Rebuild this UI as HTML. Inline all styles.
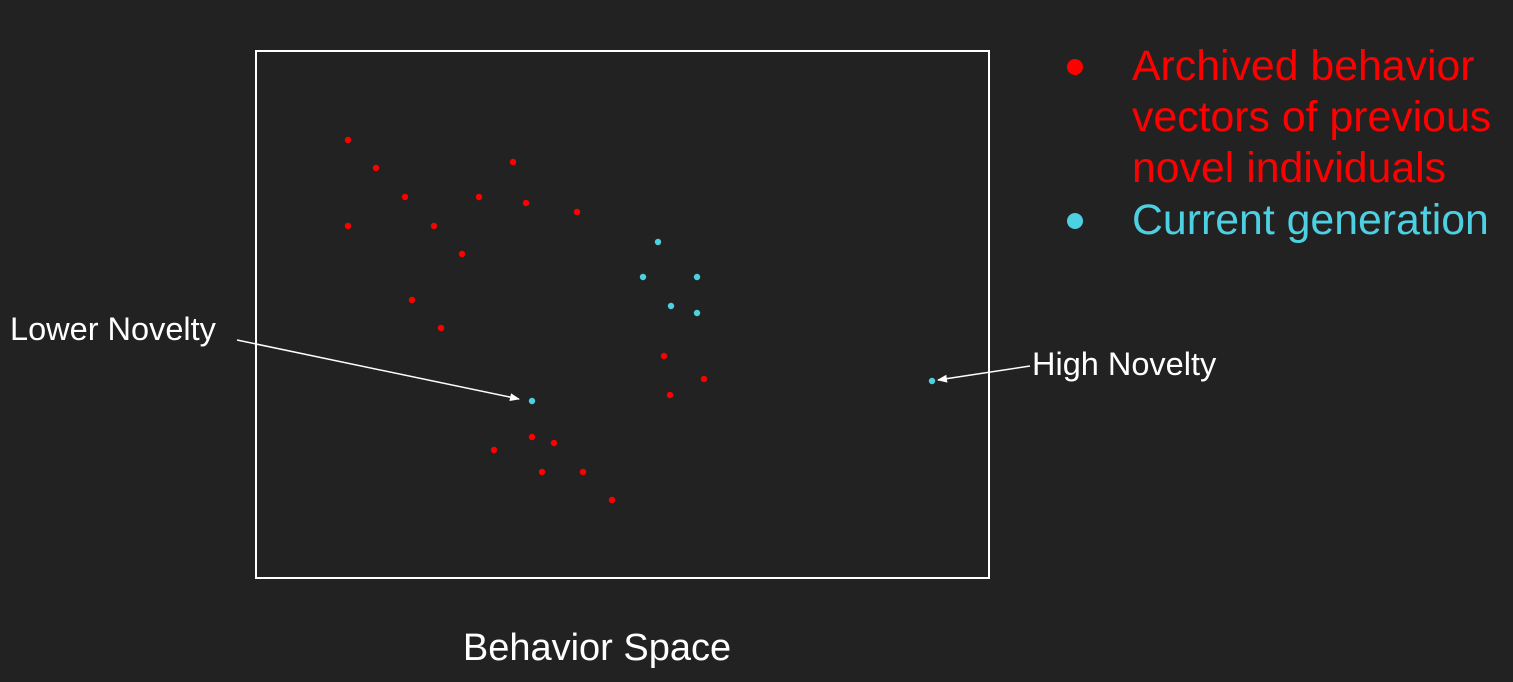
<!DOCTYPE html>
<html><head><meta charset="utf-8"><style>
html,body{margin:0;padding:0;background:#222222;}
svg{display:block;font-family:"Liberation Sans",sans-serif;}
</style></head><body>
<svg width="1513" height="682" viewBox="0 0 1513 682">
<rect x="0" y="0" width="1513" height="682" fill="#222222"/>
<rect x="256" y="51" width="733" height="527" fill="none" stroke="#ffffff" stroke-width="2"/>
<g id="marks"></g>
<defs><marker id="ah" markerWidth="10" markerHeight="8" refX="9" refY="4" orient="auto" markerUnits="userSpaceOnUse"><path d="M0,0 L10,4 L0,8 z" fill="#ffffff"/></marker></defs>
<line x1="237" y1="340" x2="519" y2="399" stroke="#ffffff" stroke-width="1.5" marker-end="url(#ah)"/>
<line x1="1030" y1="366" x2="938" y2="380" stroke="#ffffff" stroke-width="1.5" marker-end="url(#ah)"/>
<text x="10" y="340" font-size="32.5" fill="#ffffff">Lower Novelty</text>
<text x="1032" y="375" font-size="32.5" fill="#ffffff">High Novelty</text>
<text x="597" y="660" font-size="38" fill="#ffffff" text-anchor="middle">Behavior Space</text>
<g>
<circle cx="1075" cy="67" r="8" fill="#ff0000"/>
<text x="1132" y="80" font-size="42.8" fill="#ff0000"><tspan x="1132" y="80">Archived behavior</tspan><tspan x="1132" y="131">vectors of previous</tspan><tspan x="1132" y="182">novel individuals</tspan></text>
<circle cx="1075" cy="221" r="8" fill="#4dd0e1"/>
<text x="1132" y="234" font-size="42.8" fill="#4dd0e1">Current generation</text>
</g>
</svg>
<script>
// data coordinates: x,y measured in behavior-space units (0..733 x 0..527, y down)
const archivedX = [92,120,257,149,223,270,321,92,178,206,156,185,408,448,414,276,298,238,286,327,356];
const archivedY = [89,117,111,146,146,152,161,175,175,203,249,277,305,328,344,386,392,399,421,421,449];
const currentX = [402,387,441,415,441,276,676];
const currentY = [191,226,226,255,262,350,330];
const box = {x:256, y:51, w:733, h:527};
const xScale = v => box.x + v / 733 * box.w;
const yScale = v => box.y + v / 527 * box.h;
const g = document.getElementById('marks');
const NS = 'http://www.w3.org/2000/svg';
archivedX.forEach((v,i)=>{
  const c = document.createElementNS(NS,'circle');
  c.setAttribute('cx', xScale(v)); c.setAttribute('cy', yScale(archivedY[i]));
  c.setAttribute('r', 3.2); c.setAttribute('fill', '#ff0000');
  
  
  g.appendChild(c);
});
currentX.forEach((v,i)=>{
  const c = document.createElementNS(NS,'circle');
  c.setAttribute('cx', xScale(v)); c.setAttribute('cy', yScale(currentY[i]));
  c.setAttribute('r', 3.2); c.setAttribute('fill', '#4dd0e1');
  
  
  g.appendChild(c);
});
</script>
</body></html>
